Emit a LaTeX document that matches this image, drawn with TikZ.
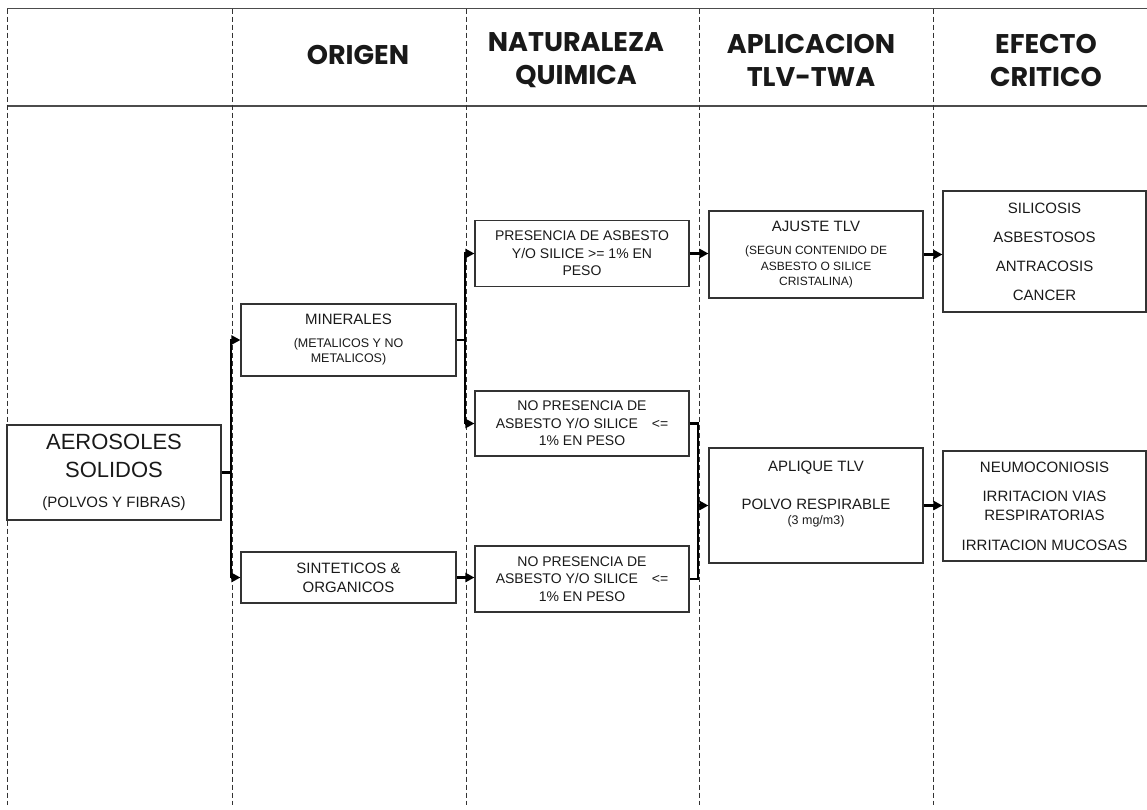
\documentclass[tikz,border=0pt]{standalone}
\usepackage{fontspec}
\setmainfont{Liberation Sans}
\newfontfamily\headfont{Poppins}
\usetikzlibrary{arrows.meta}

\tikzset{
  box/.style={draw=black!80, line width=1.1pt, rectangle, minimum width=214pt, align=center, inner sep=0pt, text=black!90, font=\fontsize{14}{17.5}\selectfont},
  head/.style={align=center, text=black!90, font=\headfont\bfseries\fontsize{27}{33}\selectfont},
  colline/.style={dash pattern=on 5pt off 3pt, line width=0.8pt, black!80},
  rowline/.style={line width=1.5pt, black!70},
  link/.style={line width=2.4pt},
  flecha/.style={line width=2.4pt, -{Triangle[length=9pt,width=9pt]}},
}

\begin{document}
\begin{tikzpicture}[x=1pt, y=-1pt]
            \useasboundingbox (0,0) rectangle (1147,809);
            % columnas
            \draw[rowline] (7,8.5) -- (1147,8.5);
            \draw[rowline] (7,106) -- (1147,106);
            \foreach \x in {7,232,466,699,933}
                \draw[colline] (\x,8.5) -- (\x,805);
            \node[head] (hOri) at (358,54.5) {ORIGEN};
            \node[head] (hNat) at (576,60) {NATURALEZA\\QUIMICA};
            \node[head] (hApl) at (811,60) {APLICACION\\TLV-TWA};
            \node[head] (hEfe) at (1046,60) {EFECTO\\CRITICO};
            % cajas
            \node[box, minimum height=95pt, font=\fontsize{22}{28}\selectfont] (aer) at (114,472.5) {AEROSOLES\\SOLIDOS\\[2pt]{\fontsize{15}{18}\selectfont (POLVOS Y FIBRAS)}};
            \node[box, minimum width=215pt, minimum height=72pt, font=\fontsize{12.5}{15}\selectfont] (min) at (348.5,340) {{\fontsize{15}{18}\selectfont MINERALES}\\[8pt](METALICOS Y NO\\METALICOS)};
            \node[box, minimum width=215pt, minimum height=51pt, font=\fontsize{15}{19}\selectfont] (sin) at (348.5,577.5) {SINTETICOS \&\\ORGANICOS};
            \node[box, minimum height=66pt] (pres) at (582,253.5) {PRESENCIA DE ASBESTO\\Y/O SILICE >= 1\% EN\\PESO};
            \node[box, minimum height=65pt] (nop1) at (582,423.5) {NO PRESENCIA DE\\ASBESTO Y/O SILICE\hspace{14pt}<=\\1\% EN PESO};
            \node[box, minimum height=66pt] (nop2) at (582,579) {NO PRESENCIA DE\\ASBESTO Y/O SILICE\hspace{14pt}<=\\1\% EN PESO};
            \node[box, minimum height=87pt, font=\fontsize{12}{15.5}\selectfont] (ajuste) at (816,254.5) {{\fontsize{15}{18}\selectfont AJUSTE TLV}\\[7.5pt](SEGUN CONTENIDO DE\\ASBESTO O SILICE\\CRISTALINA)};
            \node[box, minimum height=115pt] (apl) at (816,505.5) {};
            \node[align=center, inner sep=0pt, text=black!90, font=\fontsize{15}{18}\selectfont] (apltxt) at (816,494) {APLIQUE TLV\\[20pt]POLVO RESPIRABLE\\[-3pt]{\fontsize{12.5}{15}\selectfont (3 mg/m3)}};
            \node[box, minimum width=203pt, minimum height=121pt, font=\fontsize{15}{29}\selectfont] (sil) at (1044.5,251.5) {SILICOSIS\\ASBESTOSOS\\ANTRACOSIS\\CANCER};
            \node[box, minimum width=203pt, minimum height=110pt, font=\fontsize{15}{19}\selectfont] (neu) at (1044.5,506) {NEUMOCONIOSIS\\[10pt]IRRITACION VIAS\\RESPIRATORIAS\\[11pt]IRRITACION MUCOSAS};
            % uniones
            \coordinate (j1a) at (231,340);
            \coordinate (j1b) at (231,577.5);
            \coordinate (j2a) at (465,253.5);
            \coordinate (j2b) at (465,423.5);
            \coordinate (j3) at (698,505.5);
            \draw[link] (aer.east) -- (aer.east -| j1a);
            \draw[flecha] (j1b) -- (j1a) -- (min.west);
            \draw[flecha] (j1b) -- (sin.west);
            \draw[link] (min.east) -- (min.east -| j2a);
            \draw[flecha] (j2b) -- (j2a) -- (pres.west);
            \draw[flecha] (j2b) -- (nop1.west);
            \draw[flecha] (sin.east) -- (sin.east -| nop2.west);
            \draw[flecha] (pres.east) -- (pres.east -| ajuste.west);
            \draw[link] (nop1.east) -- (nop1.east -| j3) -- (nop2.east -| j3) -- (nop2.east);
            \draw[flecha] (j3) -- (apl.west);
            \draw[flecha] (ajuste.east) -- (ajuste.east -| sil.west);
            \draw[flecha] (apl.east) -- (apl.east -| neu.west);
        \end{tikzpicture}
\end{document}
